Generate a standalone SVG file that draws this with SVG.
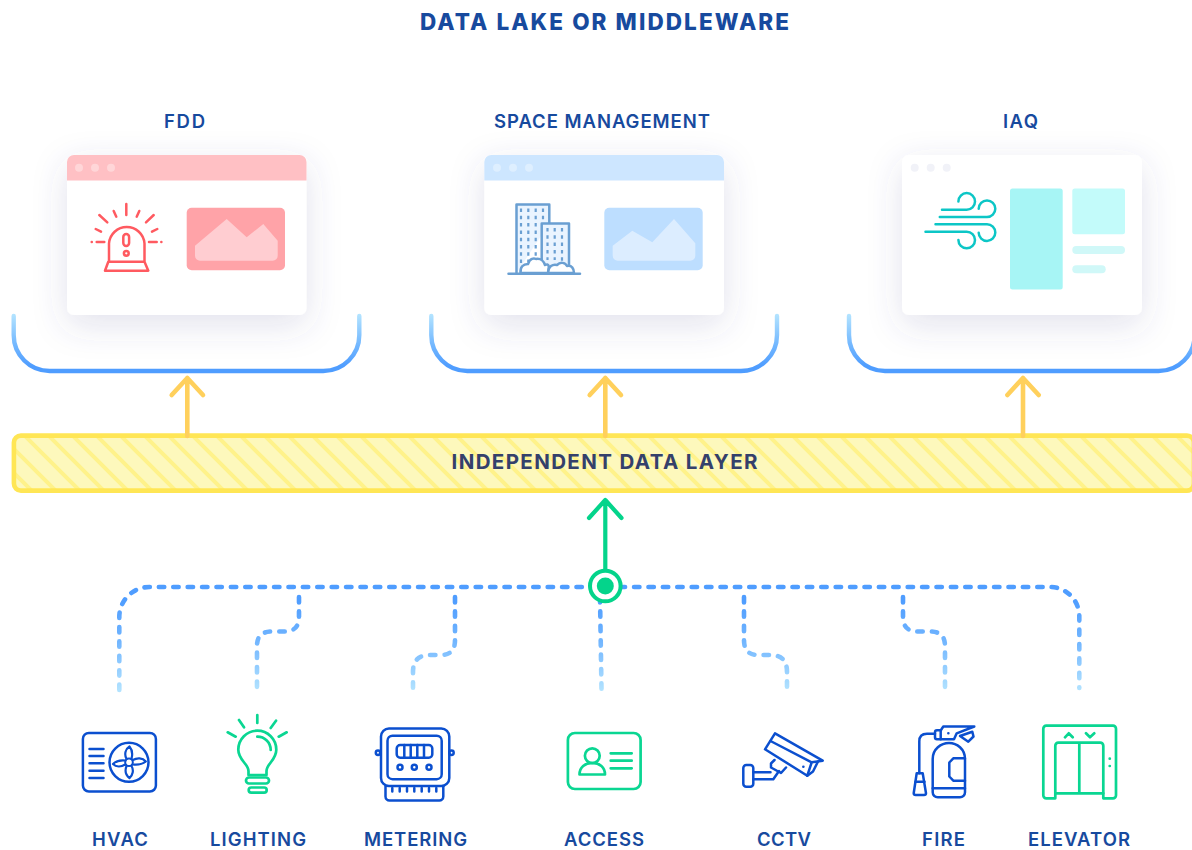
<svg xmlns="http://www.w3.org/2000/svg" width="1192" height="850" viewBox="0 0 1192 850">
<style>
text{font-family:"Inter","Liberation Sans",sans-serif;fill:#174a9e;font-weight:600;text-anchor:middle}
.lab{font-size:18.5px}
.card{fill:#fff;filter:url(#sh)}
.ic{fill:none;stroke-linecap:round;stroke-linejoin:round}
.bl{stroke:#0b4fcf;stroke-width:2.5}
.gr{stroke:#0ad692;stroke-width:2.7}
.rd{stroke:#ff5a60;stroke-width:2.5}
.sb{stroke:#6a9fd2;stroke-width:2.5}
.wd{stroke:#0cc6c6;stroke-width:2.5}
.dash{fill:none;stroke:url(#dg);stroke-width:4.6;stroke-linecap:round;stroke-dasharray:5.4 9}
.brk{fill:none;stroke-width:4.4;stroke-linecap:round}
.ya{fill:none;stroke:#ffd05c;stroke-width:4.6;stroke-linecap:round;stroke-linejoin:round}
.dot{fill:#fff;opacity:.35}
</style>
<defs>
<filter id="sh" x="-30%" y="-30%" width="160%" height="170%"><feDropShadow dx="0" dy="10" stdDeviation="17" flood-color="#46508c" flood-opacity=".16"/></filter>
<linearGradient id="bg" gradientUnits="userSpaceOnUse" x1="0" y1="314" x2="0" y2="366"><stop offset="0" stop-color="#b4e4ff"/><stop offset=".5" stop-color="#7cbeff"/><stop offset="1" stop-color="#4f9dff"/></linearGradient>
<linearGradient id="dg" gradientUnits="userSpaceOnUse" x1="0" y1="600" x2="0" y2="692"><stop offset="0" stop-color="#4f9dff"/><stop offset=".45" stop-color="#72b6ff"/><stop offset="1" stop-color="#b4e4ff"/></linearGradient>
<pattern id="st" patternUnits="userSpaceOnUse" width="24" height="24" patternTransform="translate(21 0)"><rect width="24" height="24" fill="#fdf8bc"/><path d="M-6 -6L30 30M-6 18L6 30M18 -6L30 6" stroke="#fff28a" stroke-width="4"/></pattern>
</defs>
<rect width="1192" height="850" fill="#fff"/>

<text id="title" x="604.500" y="29.5" font-size="22.500" style="font-weight:800" textLength="369" lengthAdjust="spacing">DATA LAKE OR MIDDLEWARE</text>

<g id="fdd">
<text class="lab" x="184.500" y="127.5" textLength="41">FDD</text>
<rect class="card" x="67" y="155" width="239.500" height="160" rx="7"/>
<path d="M67 180.500V162a7 7 0 0 1 7-7H299.500a7 7 0 0 1 7 7V180.500Z" fill="#ffc0c4"/>
<circle class="dot" cx="79" cy="167.700" r="4"/><circle class="dot" cx="95" cy="167.700" r="4"/><circle class="dot" cx="111" cy="167.700" r="4"/>
<g class="ic rd">
<path d="M109 261.700V243.500a17.800 17.800 0 0 1 35.500 0V261.700M108.300 261.700H144.500L148.300 270.700H105Z"/>
<rect x="123.300" y="234" width="5.800" height="12" rx="2.900"/><circle cx="126.300" cy="253.300" r="2.400"/>
<path d="M126.300 204V215M113.700 211L116.300 216.700M139.300 211L136.700 216.700M99.300 215L107.300 222.300M153.700 215L146 222.300M95.700 229L101 231.700M157.300 229L152 231.700M96.700 242H104.300M149 242H156.700M91.700 242H91.800M161.300 242H161.400"/>
</g>
<rect x="186.700" y="207.700" width="98.300" height="62.500" rx="5" fill="#ffa3a8"/>
<path d="M195 245.700L226.700 219L246.700 237.300L263.300 224L277.700 240.700V255.700a5 5 0 0 1-5 5H200a5 5 0 0 1-5-5Z" fill="#ffcdd1"/>
</g>

<g id="space-management">
<text class="lab" x="602" y="127.5" textLength="216">SPACE MANAGEMENT</text>
<rect class="card" x="484.300" y="155" width="239.700" height="160" rx="7"/>
<path d="M484.300 180.500V162a7 7 0 0 1 7-7H717a7 7 0 0 1 7 7V180.500Z" fill="#cde6ff"/>
<circle class="dot" cx="497" cy="167.700" r="4"/><circle class="dot" cx="513" cy="167.700" r="4"/><circle class="dot" cx="529" cy="167.700" r="4"/>
<g class="ic sb">
<path d="M516.500 273V204.500H549.300V223.500" fill="#eaf4ff"/>
<path d="M541.700 273V223.500H569V273" fill="#eaf4ff"/>
<path d="M521 208.500V266M528.300 208.500V262M535.700 208.500V258M543 208.500V222M547.500 228V260M554.700 228V260M562 228V266" stroke-width="2.200" stroke-dasharray="3.500 3.800" stroke-linecap="butt"/>
<path d="M520.500 273C520 267 523 264 528 264C530 258 534 258 536 259C541 258 544 262 545 265C549 263 549.500 266 548 273Z" fill="#fff"/>
<path d="M548 273C548 266 553 264 557 265C560 262 565 262 567 266C572 265 574 269 574 273Z" fill="#fff"/>
<path d="M508.500 273.700H580"/>
</g>
<rect x="604.300" y="207.700" width="98.400" height="62.500" rx="5" fill="#bddeff"/>
<path d="M612.700 245.700L632.300 230.700L652.300 242.300L674 219L695.300 243.300V255.700a5 5 0 0 1-5 5H617.700a5 5 0 0 1-5-5Z" fill="#dcedff"/>
</g>

<g id="iaq">
<text class="lab" x="1020.500" y="127.5" textLength="35">IAQ</text>
<rect class="card" x="902" y="155" width="240" height="160" rx="7"/>
<circle cx="914.700" cy="167.700" r="4" fill="#f1f2f8"/><circle cx="930.700" cy="167.700" r="4" fill="#f1f2f8"/><circle cx="946.700" cy="167.700" r="4" fill="#f1f2f8"/>
<g class="ic wd">
<path d="M942 209.700H966.700A8.300 8.300 0 1 0 958.400 201.400"/>
<path d="M939.800 217H987A8.300 8.300 0 1 0 978.700 208.700"/>
<path d="M935.500 224.300H987A8.300 8.300 0 1 1 978.700 232.700"/>
<path d="M925.500 231.700H966.700A8.300 8.300 0 1 1 958.400 240"/>
</g>
<rect x="1010" y="188.500" width="52.700" height="101" rx="2.500" fill="#a7f5f5"/>
<rect x="1072.300" y="188.500" width="52.700" height="45.700" rx="2.500" fill="#c3fbfa"/>
<rect x="1072.300" y="246" width="52.700" height="8" rx="4" fill="#d0f8f8"/>
<rect x="1072.300" y="265.300" width="33.400" height="8" rx="4" fill="#d0f8f8"/>
</g>

<g id="connectors">
<path class="brk" stroke="url(#bg)" d="M13.700 316V335A36 36 0 0 0 49.700 371H323.300A36 36 0 0 0 359.300 335V316"/>
<path class="brk" stroke="url(#bg)" d="M431.300 316V335A36 36 0 0 0 467.300 371H741A36 36 0 0 0 777 335V316"/>
<path class="brk" stroke="url(#bg)" d="M849 316V335A36 36 0 0 0 885 371H1158.600A36 36 0 0 0 1194.600 335V316"/>
<path class="dash" d="M119.300 690V617A30 30 0 0 1 149.300 587H1050A29.300 29.300 0 0 1 1079.300 616.300V688"/>
<path class="dash" d="M299 597V617C299 627 294 631.500 284 631.500H272C262 631.500 257 636 257 646V688"/>
<path class="dash" d="M455 597V640C455 651 450 655 440 655H430C419 655 413 660 413 672V688"/>
<path class="dash" d="M600 597L601.500 689"/>
<path class="dash" d="M744 597V640C744 651 749 655 759 655H770C781 655 787 660 787 672V688"/>
<path class="dash" d="M903 597V617C903 627 908 631.500 918 631.500H930C940 631.500 945 636 945 646V688"/>
<path d="M605.300 570V500M589 518L605.300 500L621.500 518" fill="none" stroke="#04d48b" stroke-width="4.200" stroke-linecap="round" stroke-linejoin="round"/>
<circle cx="605.300" cy="586" r="15.300" fill="#fff" stroke="#04d48b" stroke-width="4"/>
<circle cx="605.300" cy="586" r="8.500" fill="#04d48b"/>
</g>

<g id="data-layer">
<rect x="13.900" y="435.600" width="1180" height="55" rx="7" fill="url(#st)" stroke="#ffe655" stroke-width="4.600"/>
<text x="604.500" y="468.500" font-size="20.500" textLength="306" style="fill:#34406b;font-weight:700">INDEPENDENT DATA LAYER</text>
</g>

<g id="up-arrows">
<path class="ya" d="M187.300 436V378M171.700 395L187.300 378L203 395"/>
<path class="ya" d="M605.300 436V378M589.700 395L605.300 378L621 395"/>
<path class="ya" d="M1023 436V378M1007.400 395L1023 378L1038.700 395"/>
</g>

<g id="hvac">
<g class="ic bl">
<rect x="82.900" y="732.900" width="73" height="58.600" rx="6"/>
<path d="M89.500 749H103.500M89.500 756H103.500M89.500 763.300H103.500M89.500 770.700H103.500M89.500 778H103.500"/>
<circle cx="129" cy="762.300" r="19.500"/><circle cx="129" cy="762.300" r="3.800" stroke-width="2"/>
<path d="M126.500 759C124 754 125.500 749 129.500 746.500C132.500 750 132.800 754 131.500 759M132.800 760C137 757.500 142.500 757.500 145.800 761.500C142 764.500 137 765 132.800 764.500M131.500 766C134 770 132.800 775.500 129.500 778C125.500 775 125 770 126.500 766M125.200 764.500C121 767 116 767 113 764C116.500 760.500 121.500 760 125.500 760.500" stroke-width="2.200"/>
</g>
<text class="lab" x="120" y="846" textLength="56">HVAC</text>
</g>

<g id="lighting">
<g class="ic gr">
<path d="M248.500 775V771C248.500 764 238.300 760 238.300 749.700A19 19 0 0 1 276.300 749.700C276.300 760 266.500 764 266.500 771V775H248.500Z"/>
<path d="M257.300 736.700A13.300 13.300 0 0 1 270.700 750M257.300 715V723M239 720L244 727.300M276 720.700L270.700 728M227.700 732.300L235.700 736.700M286.700 732.300L278.700 736.700"/>
<rect x="246" y="777.500" width="23" height="6" rx="3"/><rect x="248.700" y="787.500" width="18" height="5.200" rx="2.600"/>
</g>
<text class="lab" x="258" y="846" textLength="96">LIGHTING</text>
</g>

<g id="metering">
<g class="ic bl">
<rect x="381" y="728.500" width="68.300" height="57.500" rx="8"/>
<rect x="387.500" y="735.700" width="54.200" height="43.500" rx="5"/>
<rect x="396.700" y="745" width="35.600" height="12.700" rx="3.500"/>
<path d="M404.300 745V757.700M410.700 745V757.700M417.300 745V757.700M424 745V757.700"/>
<circle cx="400" cy="767.300" r="2.500"/><circle cx="414.300" cy="767.300" r="2.500"/><circle cx="429" cy="767.300" r="2.500"/>
<circle cx="378" cy="752.700" r="2.200"/><circle cx="451.500" cy="752.700" r="2.200"/>
<path d="M385.500 786V796.500a4 4 0 0 0 4 4H439.300a4 4 0 0 0 4-4V786"/>
<path d="M392.300 788V791.500M399.700 788V791.500M407 788V791.500M414.300 788V791.500M421.700 788V791.500M429 788V791.500M436.300 788V791.500"/>
</g>
<text class="lab" x="415.500" y="846" textLength="103">METERING</text>
</g>

<g id="access">
<g class="ic gr">
<rect x="567.900" y="733" width="72.700" height="56" rx="7"/>
<circle cx="592.300" cy="755.700" r="7.400"/>
<path d="M579.500 774.500C579.500 767 585 763 592.300 763S605 767 605 774.500Z"/>
<path d="M610.700 753.300H631.700M610.700 760.700H631.700M610.700 768.300H631.700"/>
</g>
<text class="lab" x="604" y="846" textLength="80">ACCESS</text>
</g>

<g id="cctv">
<g class="ic bl">
<path d="M775 733.300L822.700 760.700L811.700 762.300L807.300 775.700L765 749.300Z"/>
<path d="M770.500 741L811.700 762.300M807.300 775.700L813 771.500L818 761.500"/>
<path d="M774.500 760L771 763.500L771 767.500L781 773L786 767.500"/>
<rect x="743.300" y="765" width="10" height="21.700" rx="3"/>
<path d="M753.300 772.300H770.500M753.300 779.300H773.300L779 771"/>
<path d="M803.300 766.700H803.400"/>
</g>
<text class="lab" x="784" y="846" textLength="54">CCTV</text>
</g>

<g id="fire">
<g class="ic bl">
<path d="M932.700 792.300V759C932.700 749 941 743 949 743S965 749 965 759V792.300a5 5 0 0 1-5 5H937.700a5 5 0 0 1-5-5Z"/>
<path d="M932.700 788.300H965M965 758.300H953.300L949.300 762.500V776.500L953.300 780.700H965"/>
<path d="M943.300 726.500H974.300L956.700 733.300L954 739.300H940.700V730.500Z"/>
<path d="M940.700 730.300H937A2 2 0 0 0 935 732.300V737.300A2 2 0 0 0 937 739.300H940.700"/>
<path d="M960 736L972.300 731.700L973.500 736.500L968.300 741.700Z"/>
<path d="M935 733.800H927Q919.300 733.800 919.300 741.500V773.300"/>
<path d="M916.700 773.300H922.700L926 793.300Q926 795 924 795H915.700Q913.700 795 913.700 793.300Z"/>
<path d="M915.500 781.700H924.500M948.300 733.300H948.400"/>
</g>
<text class="lab" x="943.500" y="846" textLength="43">FIRE</text>
</g>

<g id="elevator">
<g class="ic gr">
<path d="M1055.300 793.300V798.300H1046.300A3 3 0 0 1 1043.300 795.300V728.700A3 3 0 0 1 1046.300 725.700H1113A3 3 0 0 1 1116 728.700V795.300A3 3 0 0 1 1113 798.300H1103.300V793.300"/>
<path d="M1055.300 793.300V745.700A3 3 0 0 1 1058.300 742.700H1100.300A3 3 0 0 1 1103.300 745.700V793.300ZM1079.300 742.700V793.300M1065 737.300L1068.700 733.300L1072.700 737.300M1086 733.300L1090 737.300L1094.300 733.300M1109.700 758.700H1109.800M1109.700 766H1109.800"/>
</g>
<text class="lab" x="1079" y="846" textLength="102">ELEVATOR</text>
</g>
</svg>
